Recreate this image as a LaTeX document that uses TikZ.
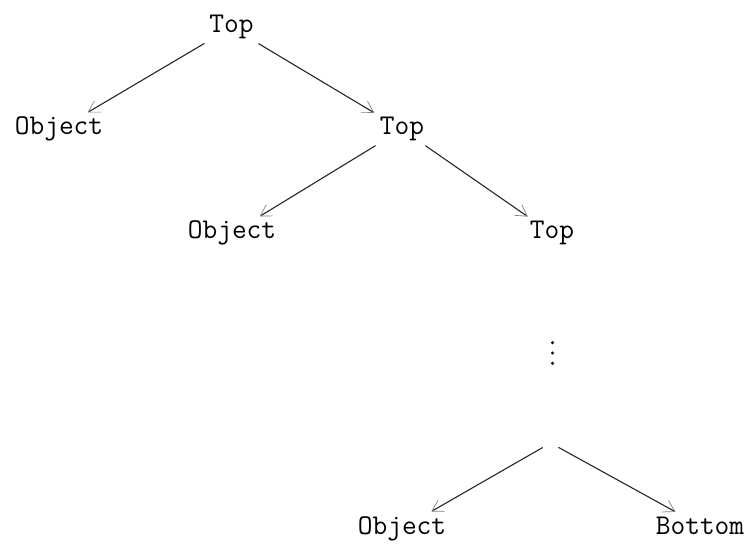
\documentclass[tikz,border=0pt]{standalone}
\usepackage{fontspec}
\usetikzlibrary{arrows.meta}
\tikzset{
  lbl/.style={font=\fontsize{28.6}{32}\selectfont\ttfamily, inner sep=3pt, anchor=base},
  edge/.style={draw=black!85, line width=1.1pt,
    -{Straight Barb[length=11pt, width=13pt, color=gray, line width=0.7pt]},
    shorten <=2pt, shorten >=3pt},
}
\begin{document}
\begin{tikzpicture}[x=1pt, y=-1pt]
\useasboundingbox (0,0) rectangle (747,548);
\node[lbl] (t1) at (231.5,33) {Top};
\node[lbl] (o1) at (59,135) {Object};
\node[lbl] (t2) at (402,135) {Top};
\node[lbl] (o2) at (232,239) {Object};
\node[lbl] (t3) at (552,239) {Top};
\node[inner sep=0pt, minimum size=0pt] (dots) at (552.5,353) {};
\fill (dots) ++(0,-10.3) circle (1.7) (dots) circle (1.7) (dots) ++(0,10.3) circle (1.7);
\coordinate (e) at (550.5,443);
\node[lbl] (o3) at (402,534) {Object};
\node[lbl] (b) at (700,534) {Bottom};
\draw[edge] (t1) -- (o1);
\draw[edge] (t1) -- (t2);
\draw[edge] (t2) -- (o2);
\draw[edge] (t2) -- (t3);
\draw[edge, shorten <=9pt] (e) -- (o3);
\draw[edge, shorten <=9pt] (e) -- (b);
\end{tikzpicture}
\end{document}
